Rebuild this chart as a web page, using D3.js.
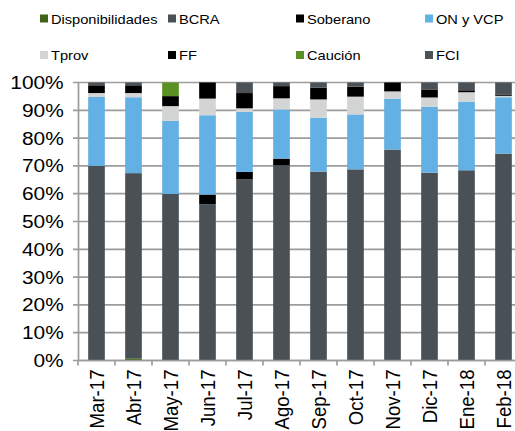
<!DOCTYPE html>
<html>
<head>
<meta charset="utf-8">
<script src="https://cdn.jsdelivr.net/npm/d3@7"></script>
<style>
  html, body { margin: 0; padding: 0; background: #fff; }
  svg { display: block; font-family: "Liberation Sans", Arial, sans-serif; }
</style>
</head>
<body>
<svg id="chart" width="515" height="431"></svg>
<script>
const categories = ["Mar-17","Abr-17","May-17","Jun-17","Jul-17","Ago-17","Sep-17","Oct-17","Nov-17","Dic-17","Ene-18","Feb-18"];
const seriesNames = ["Disponibilidades","BCRA","Soberano","ON y VCP","Tprov","FF","Caución","FCI"];
const disponibilidades = [0, 0.8, 0, 0, 0, 0, 0, 0, 0, 0, 0, 0];
const bcra     = [70.0, 66.6, 59.9, 56.3, 65.2, 70.3, 68.1, 68.9, 75.8, 67.7, 68.5, 74.5];
const soberano = [0, 0, 0, 3.5, 2.7, 2.4, 0, 0, 0, 0, 0, 0];
const onVcp    = [24.8, 27.3, 26.3, 28.6, 21.6, 17.7, 19.4, 19.8, 18.3, 23.7, 24.7, 20.3];
const tprov    = [1.4, 1.5, 5.3, 6.0, 1.3, 4.0, 6.6, 6.4, 2.6, 3.4, 3.4, 0.5];
const ff       = [2.8, 2.8, 3.6, 5.8, 5.5, 4.4, 4.2, 3.6, 3.2, 2.9, 0.7, 0.5];
const caucion  = [0, 0, 4.9, 0, 0, 0, 0, 0, 0, 0, 0, 0];
const fci      = [1.0, 1.0, 0, 0, 3.8, 1.3, 1.9, 1.5, 0, 2.5, 2.8, 4.3];
const yTicks = [0, 0.1, 0.2, 0.3, 0.4, 0.5, 0.6, 0.7, 0.8, 0.9, 1.0];

const seriesValues = [disponibilidades, bcra, soberano, onVcp, tprov, ff, caucion, fci];
const colors = ["#3f6419", "#495157", "#000000", "#63b0e4", "#d3d4d4", "#000000", "#5a9024", "#4a5258"];

const rows = categories.map((c, i) => {
  const r = { cat: c };
  seriesNames.forEach((s, j) => r[s] = seriesValues[j][i]);
  return r;
});

const svg = d3.select("#chart");
const plotL = 78, plotR = 522, plotT = 82.5, plotB = 360.5;
const stretch = 1.1;

const x = d3.scaleBand().domain(categories).range([plotL, plotR]).paddingInner(0.55).paddingOuter(0.275);
const y = d3.scaleLinear().domain([0, 1]).range([plotB, plotT]);

// gridlines
svg.append("g").selectAll("line").data(yTicks).join("line")
  .attr("x1", plotL - 5).attr("x2", 515)
  .attr("y1", d => y(d)).attr("y2", d => y(d))
  .attr("stroke", "#9c9c9c").attr("stroke-width", 1.7);

// y axis
const yAxis = d3.axisLeft(y).tickValues(yTicks).tickFormat(d3.format(".0%")).tickSize(0).tickPadding(13);
const gy = svg.append("g").attr("transform", `translate(${plotL},0)`).call(yAxis);
gy.select(".domain").attr("stroke", "#9c9c9c").attr("stroke-width", 1.7);
gy.selectAll("text").attr("font-size", 19).attr("fill", "#000")
  .attr("font-family", "'Liberation Sans', Arial, sans-serif")
  .attr("transform", `scale(${stretch},1)`);

// stacked bars
const stack = d3.stack().keys(seriesNames).offset(d3.stackOffsetExpand);
const stacked = stack(rows);
svg.append("g").selectAll("g").data(stacked).join("g")
  .attr("fill", (d, i) => colors[i])
  .selectAll("rect").data(d => d).join("rect")
  .attr("x", d => x(d.data.cat))
  .attr("width", x.bandwidth())
  .attr("y", d => y(d[1]))
  .attr("height", d => Math.max(0, y(d[0]) - y(d[1])));

// x axis
const step = x.step();
const gx = svg.append("g").attr("transform", `translate(0,${plotB})`);
gx.append("line").attr("x1", plotL).attr("x2", 515).attr("y1", 0).attr("y2", 0)
  .attr("stroke", "#9c9c9c").attr("stroke-width", 1.7);
gx.selectAll("line.tk").data(d3.range(categories.length + 1)).join("line")
  .attr("class", "tk")
  .attr("x1", i => plotL + i * step).attr("x2", i => plotL + i * step)
  .attr("y1", 0).attr("y2", 5)
  .attr("stroke", "#9c9c9c").attr("stroke-width", 1.7);
gx.selectAll("text").data(categories).join("text")
  .attr("transform", d => `translate(${x(d) + x.bandwidth() / 2 + 7.5},9) scale(${stretch},1) rotate(-90)`)
  .attr("text-anchor", "end")
  .attr("font-size", 18.6)
  .attr("fill", "#000")
  .text(d => d);

// legend
const legX = [40, 168, 296, 425];
const legY = [18.5, 55];
const leg = svg.append("g").selectAll("g").data(seriesNames).join("g")
  .attr("transform", (d, i) => `translate(${legX[i % 4]},${legY[Math.floor(i / 4)]})`);
leg.append("rect").attr("x", 0).attr("y", -4).attr("width", 8).attr("height", 8)
  .attr("fill", (d, i) => colors[i]);
leg.append("text").attr("x", 10).attr("y", 5).attr("font-size", 13.3).attr("fill", "#000")
  .attr("transform", `scale(${stretch},1)`)
  .text(d => d);
</script>
</body>
</html>
